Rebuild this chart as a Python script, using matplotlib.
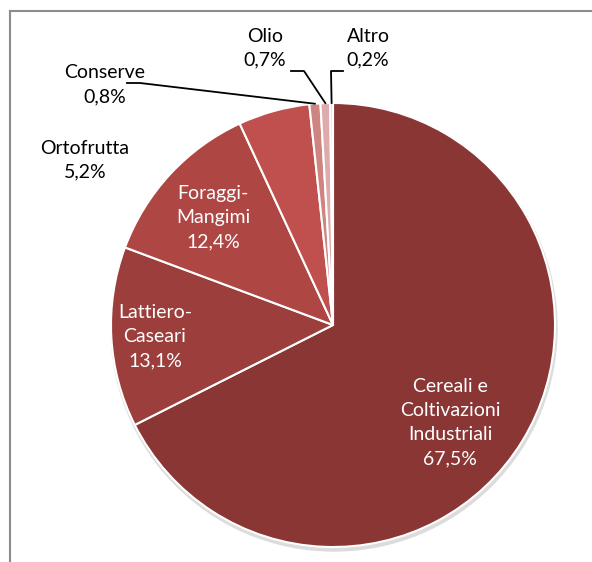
import matplotlib.pyplot as plt
from matplotlib.lines import Line2D
import numpy as np

plt.rcParams['font.family'] = ['Lato', 'DejaVu Sans']

categories = ['Cereali e\nColtivazioni\nIndustriali', 'Lattiero-\nCaseari', 'Foraggi-\nMangimi',
              'Ortofrutta', 'Conserve', 'Olio', 'Altro']
values = [67.5, 13.1, 12.4, 5.2, 0.8, 0.7, 0.2]
colors = ['#893635', '#9c3e3c', '#ae4644', '#c0504d', '#cf8482', '#ddabab', '#e9cccc']

W, H = 592, 562
fig = plt.figure(figsize=(W / 100, H / 100), dpi=100)
ax = fig.add_axes([0, 0, 1, 1])

cx, cy, r = 333, H - 325, 222

# subtle shadow
shadow = plt.Circle((cx + 1, cy - 3), r + 1, color='#dcdcdc', zorder=0)
ax.add_patch(shadow)

wedges, _ = ax.pie(values, colors=colors, startangle=90, counterclock=False,
                   center=(cx, cy), radius=r, frame=True,
                   wedgeprops=dict(edgecolor='white', linewidth=1.5))
ax.set_xlim(0, W)
ax.set_ylim(0, H)
ax.axis('off')

def pct(v):
    return f'{v:.1f}%'.replace('.', ',')

fs = 14
ls = 1.5
# inside labels
inside = {0: (450, 423), 1: (155, 337), 2: (213, 218)}
for i, (x, y) in inside.items():
    ax.text(x, H - y, categories[i] + '\n' + pct(values[i]), ha='center', va='center',
            color='white', fontsize=fs, linespacing=ls)

# outside labels
outside = {3: (85, 160), 4: (105, 85), 5: (265, 48), 6: (368, 48)}
for i, (x, y) in outside.items():
    ax.text(x, H - y, categories[i] + '\n' + pct(values[i]), ha='center', va='center',
            color='black', fontsize=fs, linespacing=ls)

def edge_point(i):
    w = wedges[i]
    mid = np.deg2rad((w.theta1 + w.theta2) / 2)
    return cx + r * np.cos(mid), cy + r * np.sin(mid)

# leader lines
px, py = edge_point(4)
ax.plot([127, 140, px], [H - 83, H - 83, py], color='black', lw=1.3)
px, py = edge_point(5)
ax.plot([291, 304, px], [H - 71, H - 71, py], color='black', lw=1.3)
px, py = edge_point(6)
ax.plot([343, 331, px], [H - 71, H - 71, py], color='black', lw=1.3)

# chart frame (top and left edges visible)
fig.add_artist(Line2D([10 / W, 1], [1 - 11 / H, 1 - 11 / H], color='#8c8c8c', lw=1.5))
fig.add_artist(Line2D([10 / W, 10 / W], [0, 1 - 11 / H], color='#8c8c8c', lw=1.5))

plt.savefig('out.png', dpi=100)
